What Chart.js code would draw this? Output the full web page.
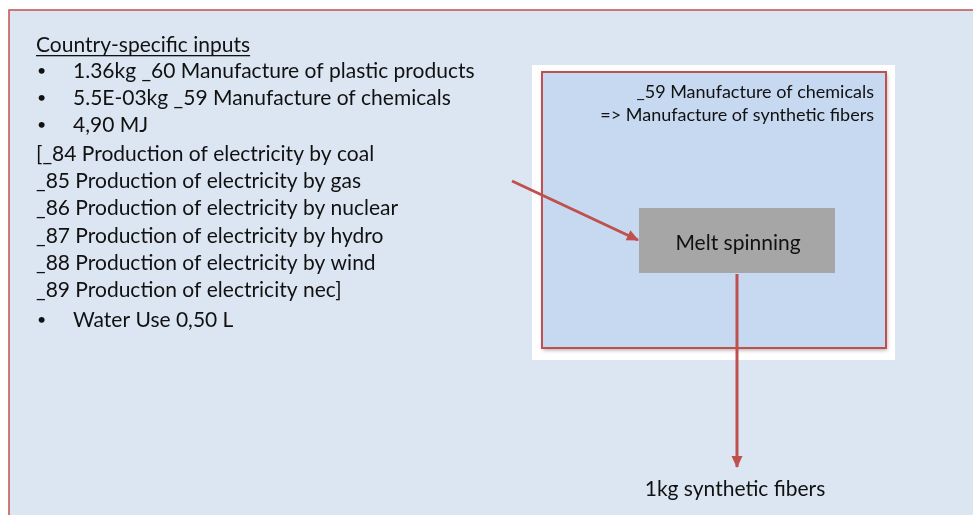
<!DOCTYPE html>
<html>
<head>
<meta charset="utf-8">
<script src="https://cdn.jsdelivr.net/npm/chart.js@4.4.0/dist/chart.umd.min.js"></script>
<style>
  html, body { margin: 0; padding: 0; background: #fff; }
  #wrap { width: 973px; height: 515px; }
</style>
</head>
<body>
<div id="wrap"><canvas id="flowChart" width="973" height="515"></canvas></div>
<script>
// text content of the diagram
const inputsTitle = 'Country-specific inputs'
const inputLines = [
    '1.36kg _60 Manufacture of plastic products',
    '5.5E-03kg _59 Manufacture of chemicals',
    '4,90 MJ',
    '[_84 Production of electricity by coal',
    '_85 Production of electricity by gas',
    '_86 Production of electricity by nuclear',
    '_87 Production of electricity by hydro',
    '_88 Production of electricity by wind',
    '_89 Production of electricity nec]',
    'Water Use 0,50 L'
]
const inputBullets = [true, true, true, false, false, false, false, false, false, true]
const processTitle = ['_59 Manufacture of chemicals', '=> Manufacture of synthetic fibers']
const processName = 'Melt spinning'
const outputLabel = '1kg synthetic fibers'

// flows: from inputs into the process, and from the process to the output
const flowIn = [{ x: 512, y: 181 }, { x: 638, y: 240 }]
const flowOut = [{ x: 737, y: 274 }, { x: 737, y: 467 }]

// layout in diagram units (same as pixels here)
const layout = {
    frame: { x: 9, y: 10, w: 1000, h: 600 },
    white: { x: 532, y: 65, w: 363, h: 295 },
    panel: { x: 542, y: 72, w: 344, h: 276 },
    proc: { x: 639, y: 208, w: 196, h: 65 }
}

const RED = '#c0504d'
const FONT = 'Lato, "Open Sans", sans-serif'

function box(xs, ys, b){
    const x0 = xs.getPixelForValue(b.x)
    const y0 = ys.getPixelForValue(b.y)
    const x1 = xs.getPixelForValue(b.x + b.w)
    const y1 = ys.getPixelForValue(b.y + b.h)
    return { x: x0, y: y0, w: x1 - x0, h: y1 - y0 }
}

const diagramPlugin = {
    id: 'diagram',
    beforeDatasetsDraw(chart){
        const ctx = chart.ctx
        const xs = chart.scales.x, ys = chart.scales.y
        ctx.save()

        let f = box(xs, ys, layout.frame)
        ctx.fillStyle = '#dce6f2'
        ctx.fillRect(f.x, f.y, f.w, f.h)
        ctx.strokeStyle = RED
        ctx.lineWidth = 1.5
        ctx.strokeRect(f.x, f.y, f.w, f.h)

        let w = box(xs, ys, layout.white)
        ctx.fillStyle = '#ffffff'
        ctx.fillRect(w.x, w.y, w.w, w.h)

        let p = box(xs, ys, layout.panel)
        ctx.shadowColor = 'rgba(0,0,0,0.35)'
        ctx.shadowBlur = 4
        ctx.shadowOffsetX = 1
        ctx.shadowOffsetY = 2
        ctx.fillStyle = '#c6d9f1'
        ctx.fillRect(p.x, p.y, p.w, p.h)
        ctx.shadowColor = 'transparent'
        ctx.strokeStyle = RED
        ctx.lineWidth = 2
        ctx.strokeRect(p.x, p.y, p.w, p.h)

        let g = box(xs, ys, layout.proc)
        ctx.fillStyle = '#a6a6a6'
        ctx.fillRect(g.x, g.y, g.w, g.h)

        ctx.restore()
    },
    afterDatasetsDraw(chart){
        const ctx = chart.ctx
        const xs = chart.scales.x, ys = chart.scales.y
        ctx.save()

        // arrow heads at the end of each flow
        chart.data.datasets.forEach(ds => {
            const n = ds.data.length
            const a = ds.data[n - 2], b = ds.data[n - 1]
            const ax = xs.getPixelForValue(a.x), ay = ys.getPixelForValue(a.y)
            const bx = xs.getPixelForValue(b.x), by = ys.getPixelForValue(b.y)
            const ang = Math.atan2(by - ay, bx - ax)
            ctx.save()
            ctx.translate(bx, by)
            ctx.rotate(ang)
            ctx.fillStyle = RED
            ctx.beginPath()
            ctx.moveTo(1, 0)
            ctx.lineTo(-11, -5.5)
            ctx.lineTo(-11, 5.5)
            ctx.closePath()
            ctx.fill()
            ctx.restore()
        })

        ctx.fillStyle = '#111'
        ctx.textBaseline = 'middle'

        // inputs list
        ctx.font = '21px ' + FONT
        ctx.textAlign = 'left'
        const tx = xs.getPixelForValue(36)
        const ty = ys.getPixelForValue(45)
        ctx.fillText(inputsTitle, tx, ty)
        const tw = ctx.measureText(inputsTitle).width
        ctx.fillRect(tx, ty + 10, tw, 1.3)

        const rowY = [71, 98, 125, 154, 181, 208, 236, 263, 290, 320]
        inputLines.forEach((line, i) => {
            const y = ys.getPixelForValue(rowY[i])
            if(inputBullets[i]){
                ctx.font = '16px ' + FONT
                ctx.fillText('•', xs.getPixelForValue(37), y)
                ctx.font = '21px ' + FONT
                ctx.fillText(line, xs.getPixelForValue(73), y)
            } else {
                ctx.fillText(line, xs.getPixelForValue(36), y)
            }
        })

        // process panel title
        ctx.font = '18px ' + FONT
        ctx.textAlign = 'right'
        ctx.fillText(processTitle[0], xs.getPixelForValue(874), ys.getPixelForValue(92))
        ctx.fillText(processTitle[1], xs.getPixelForValue(874), ys.getPixelForValue(115))

        // process and output labels
        ctx.textAlign = 'center'
        ctx.font = '21px ' + FONT
        ctx.fillText(processName, xs.getPixelForValue(738), ys.getPixelForValue(243))
        ctx.font = '21px ' + FONT
        ctx.fillText(outputLabel, xs.getPixelForValue(735), ys.getPixelForValue(489))

        ctx.restore()
    }
}

function initChart(){
    const ctx = document.getElementById('flowChart').getContext('2d')

    new Chart(ctx, {
        type: 'scatter',
        data: {
            datasets: [
                { data: flowIn, showLine: true, borderColor: RED, borderWidth: 3, pointRadius: 0 },
                { data: flowOut, showLine: true, borderColor: RED, borderWidth: 3, pointRadius: 0 }
            ]
        },
        options: {
            responsive: false,
            animation: false,
            layout: { padding: 0 },
            plugins: { legend: { display: false }, tooltip: { enabled: false } },
            scales: {
                x: { type: 'linear', min: 0, max: 973, display: false },
                y: { type: 'linear', min: 0, max: 515, reverse: true, display: false }
            }
        },
        plugins: [diagramPlugin]
    })
}

initChart()
</script>
</body>
</html>
